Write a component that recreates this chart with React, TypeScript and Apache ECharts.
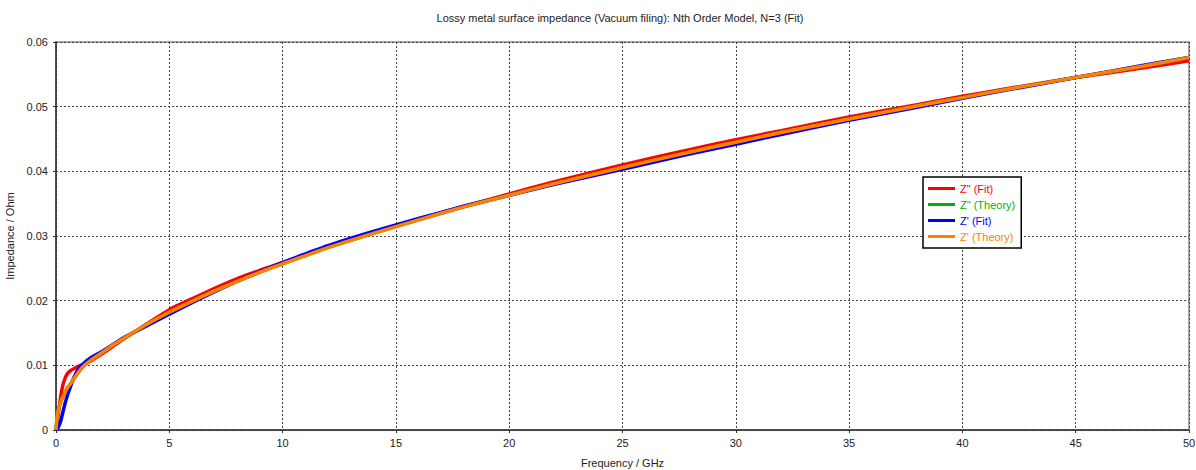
import React, { useEffect, useRef } from "react";
import * as echarts from "echarts";

// Frequency samples (GHz)
const freqGHz = [
  0, 0.05, 0.1, 0.2, 0.3, 0.4, 0.5, 0.65, 0.8, 1, 1.25, 1.5, 2, 2.5, 3, 4, 5, 6, 7, 8, 9, 10,
  12, 14, 16, 18, 20, 22, 25, 28, 30, 32, 35, 38, 40, 42, 45, 48, 50,
];

// Z'' (Fit) in Ohm
const zImagFit = [
  0, 0.0012, 0.0025, 0.005, 0.0069, 0.008, 0.0087, 0.0092, 0.0095, 0.0099, 0.0102, 0.0106,
  0.0117, 0.0129, 0.0141, 0.0164, 0.0186, 0.0203, 0.0219, 0.0234, 0.0247, 0.0259, 0.0283,
  0.0305, 0.0326, 0.0346, 0.0365, 0.0384, 0.041, 0.0434, 0.0449, 0.0463, 0.0484, 0.0503,
  0.0516, 0.0528, 0.0545, 0.056, 0.0571,
];

// Theory curve (Z'' and Z' coincide for the surface impedance model)
const zTheory = [
  0, 0.0021, 0.003, 0.0042, 0.0051, 0.0058, 0.0065, 0.0072, 0.008, 0.009, 0.01, 0.0107,
  0.0119, 0.0131, 0.0142, 0.0163, 0.0182, 0.0199, 0.0215, 0.023, 0.0244, 0.0257, 0.0282,
  0.0304, 0.0325, 0.0345, 0.0363, 0.0381, 0.0406, 0.043, 0.0445, 0.046, 0.0481, 0.0501,
  0.0514, 0.0527, 0.0545, 0.0563, 0.0576,
];

// Z' (Fit) in Ohm
const zRealFit = [
  0, 0.0001, 0.0004, 0.0013, 0.0027, 0.0041, 0.0053, 0.0068, 0.0082, 0.0095, 0.0104, 0.0111,
  0.0121, 0.0132, 0.0143, 0.0161, 0.0179, 0.0197, 0.0214, 0.023, 0.0245, 0.0259, 0.0285,
  0.0307, 0.0327, 0.0346, 0.0363, 0.038, 0.0403, 0.0427, 0.0442, 0.0457, 0.0479, 0.0499,
  0.0513, 0.0526, 0.0545, 0.0564, 0.0576,
];

const seriesNames = ['Z" (Fit)', 'Z" (Theory)', "Z' (Fit)", "Z' (Theory)"];
const seriesColors = ["#ff0000", "#00b000", "#0000ff", "#ff8000"];

const FONT = "Liberation Sans";

function pairs(values: number[]) {
  return freqGHz.map((f, i) => [f, values[i]]);
}

export default function App() {
  const ref = useRef<HTMLDivElement>(null);

  useEffect(() => {
    if (!ref.current) return;
    document.body.style.margin = "0";
    document.body.style.overflow = "hidden";
    const chart = echarts.init(ref.current, undefined, {
      renderer: "svg",
      width: 1196,
      height: 470,
    });
    const valueSets = [zImagFit, zTheory, zRealFit, zTheory];

    chart.setOption({
      animation: false,
      backgroundColor: "#ffffff",
      title: {
        text: "Lossy metal surface impedance (Vacuum filing): Nth Order Model, N=3 (Fit)",
        left: 615,
        top: 7,
        textAlign: "center",
        textStyle: { fontFamily: FONT, fontSize: 11, fontWeight: "normal", color: "#222" },
      },
      legend: {
        orient: "vertical",
        left: 923,
        top: 177,
        padding: [6, 6, 6, 5],
        itemGap: 5,
        itemWidth: 27,
        itemHeight: 3,
        icon: "rect",
        borderColor: "#000",
        borderWidth: 1.5,
        backgroundColor: "#fff",
        textStyle: { fontFamily: FONT, fontSize: 11 },
        data: seriesNames.map((n, i) => ({ name: n, textStyle: { color: seriesColors[i] } })),
      },
      grid: {
        left: 56,
        right: 7,
        top: 42,
        bottom: 40,
        outerBoundsMode: "none",
        show: true,
        borderColor: "#8a8a8a",
        borderWidth: 1.5,
      },
      xAxis: {
        type: "value",
        min: 0,
        max: 50,
        interval: 5,
        name: "Frequency / GHz",
        nameLocation: "middle",
        nameGap: 27,
        nameTextStyle: { fontFamily: FONT, fontSize: 11, color: "#222" },
        axisLine: { lineStyle: { color: "#333", width: 1.5 } },
        axisTick: { show: true, length: 3, lineStyle: { color: "#333" } },
        axisLabel: { fontFamily: FONT, fontSize: 11, color: "#222", margin: 7 },
        splitLine: { show: true, lineStyle: { color: "#444", type: [2, 2], width: 1 } },
      },
      yAxis: {
        type: "value",
        min: 0,
        max: 0.06,
        interval: 0.01,
        name: "Impedance / Ohm",
        nameLocation: "middle",
        nameGap: 36,
        nameTextStyle: { fontFamily: FONT, fontSize: 11, color: "#222" },
        axisLine: { show: true, lineStyle: { color: "#333", width: 1.5 } },
        axisTick: { show: true, length: 3, lineStyle: { color: "#333" } },
        axisLabel: { fontFamily: FONT, fontSize: 11, color: "#222", margin: 8 },
        splitLine: { show: true, lineStyle: { color: "#444", type: [2, 2], width: 1 } },
      },
      series: seriesNames.map((name, i) => ({
        name,
        type: "line",
        data: pairs(valueSets[i]),
        showSymbol: false,
        smooth: 0.2,
        lineStyle: { color: seriesColors[i], width: 3.5 },
        itemStyle: { color: seriesColors[i] },
        z: 2 + i,
      })),
    });

    return () => chart.dispose();
  }, []);

  return <div ref={ref} style={{ width: 1196, height: 470 }} />;
}
